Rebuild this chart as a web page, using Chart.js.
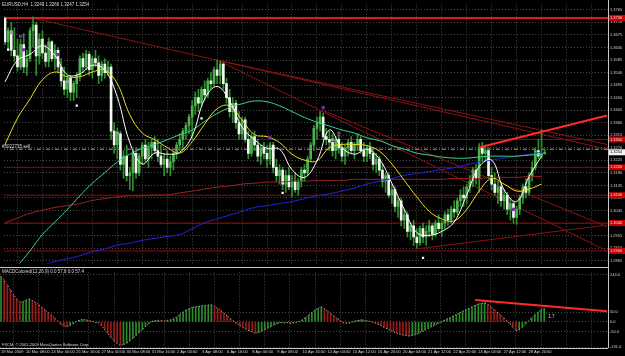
<!DOCTYPE html>
<html>
<head>
<meta charset="utf-8">
<title>EURUSD,H4</title>
<script src="https://cdn.jsdelivr.net/npm/chart.js@4.4.1/dist/chart.umd.min.js"></script>
<style>
  html, body { margin: 0; padding: 0; background: #000; }
  #wrap { position: relative; width: 625px; height: 356px; overflow: hidden; background: #000; }
  #mainChart { position: absolute; left: 0; top: 0; }
  #macdChart { position: absolute; left: 0; top: 268px; }
</style>
</head>
<body>
<div id="wrap">
  <canvas id="mainChart" width="625" height="268"></canvas>
  <canvas id="macdChart" width="625" height="88"></canvas>
</div>
<script>
// EURUSD H4, prices kept in pips (1/10000), one entry per 4h bar
const opens = [
  13735,13650,13690,13620,13600,13560,13640,13560,13590,13690,
  13710,13600,13660,13610,13580,13650,13590,13620,13560,13510,
  13480,13520,13470,13500,13530,13590,13560,13605,13550,13590,
  13575,13530,13570,13540,13560,13330,13280,13320,13210,13240,
  13170,13180,13250,13180,13240,13280,13230,13270,13290,13260,
  13240,13210,13230,13200,13220,13250,13280,13300,13330,13350,
  13380,13420,13450,13430,13480,13460,13510,13500,13550,13530,
  13570,13500,13450,13400,13430,13360,13320,13370,13300,13250,
  13310,13280,13240,13270,13250,13230,13280,13200,13170,13190,
  13140,13170,13130,13150,13120,13150,13190,13180,13230,13280,
  13340,13360,13380,13310,13300,13290,13260,13300,13270,13240,
  13270,13290,13260,13280,13300,13260,13240,13270,13250,13210,
  13230,13190,13150,13170,13100,13120,13060,13080,13010,13030,
  12970,12990,12950,12930,12980,12950,12970,12990,12960,13000,
  12980,13000,13030,13010,13050,13040,13080,13100,13090,13130,
  13150,13190,13160,13270,13250,13260,13170,13140,13110,13130,
  13080,13100,13050,13070,13020,13050,13090,13130,13110,13170,
  13200,13260,13240,13249
];
const highs = [
  13740,13700,13720,13700,13660,13660,13680,13620,13700,13740,
  13720,13680,13690,13640,13665,13655,13640,13630,13590,13560,
  13530,13530,13510,13540,13600,13610,13620,13615,13600,13620,
  13600,13580,13590,13580,13570,13360,13340,13330,13260,13280,
  13200,13260,13270,13250,13290,13300,13290,13300,13310,13300,
  13280,13250,13260,13240,13260,13290,13320,13340,13360,13390,
  13440,13470,13480,13490,13510,13520,13540,13560,13585,13580,
  13575,13520,13480,13450,13440,13400,13380,13380,13330,13320,
  13330,13300,13280,13290,13280,13290,13290,13230,13210,13200,
  13190,13200,13170,13180,13160,13200,13210,13240,13290,13350,
  13380,13400,13395,13340,13330,13320,13310,13320,13290,13280,
  13300,13310,13290,13320,13310,13290,13280,13290,13270,13250,
  13240,13210,13180,13180,13140,13130,13090,13090,13050,13040,
  13000,13010,12980,12990,13000,12990,13010,13000,13010,13030,
  13010,13040,13050,13060,13080,13090,13120,13130,13140,13170,
  13200,13210,13285,13290,13280,13270,13200,13180,13150,13140,
  13120,13110,13090,13080,13060,13100,13140,13160,13180,13220,
  13270,13300,13335,13266
];
const lows = [
  13640,13620,13600,13580,13545,13550,13540,13530,13580,13630,
  13530,13570,13590,13560,13560,13580,13550,13540,13490,13460,
  13450,13440,13440,13450,13510,13540,13550,13530,13520,13560,
  13500,13510,13520,13530,13300,13250,13230,13190,13160,13150,
  13120,13115,13160,13170,13210,13220,13200,13230,13250,13220,
  13200,13170,13180,13170,13190,13230,13260,13270,13300,13320,
  13300,13390,13400,13420,13440,13450,13480,13490,13500,13500,
  13480,13430,13380,13360,13340,13300,13300,13290,13230,13240,
  13260,13220,13210,13230,13200,13210,13180,13150,13140,13120,
  13110,13120,13095,13110,13100,13130,13150,13170,13220,13260,
  13300,13330,13300,13280,13260,13240,13230,13250,13220,13210,
  13240,13250,13230,13260,13250,13220,13220,13230,13190,13180,
  13170,13130,13110,13090,13070,13040,13020,12990,12980,12950,
  12940,12920,12910,12920,12930,12920,12950,12940,12950,12970,
  12950,12980,12990,13000,13020,13030,13060,13060,13070,13110,
  13130,13140,13110,13220,13220,13160,13120,13100,13070,13060,
  13050,13030,13010,13000,12995,13030,13070,13090,13100,13150,
  13190,13230,13230,13247
];
const closes = [
  13650,13690,13620,13600,13560,13640,13560,13590,13690,13710,
  13600,13660,13610,13580,13650,13590,13620,13560,13510,13480,
  13520,13470,13500,13530,13590,13560,13605,13550,13590,13575,
  13530,13570,13540,13560,13330,13280,13320,13210,13240,13170,
  13180,13250,13180,13240,13280,13230,13270,13290,13260,13240,
  13210,13230,13200,13220,13250,13280,13300,13330,13350,13380,
  13420,13450,13430,13480,13460,13510,13500,13550,13530,13570,
  13500,13450,13400,13430,13360,13320,13370,13300,13250,13310,
  13280,13240,13270,13250,13230,13280,13200,13170,13190,13140,
  13170,13130,13150,13120,13150,13190,13180,13230,13280,13340,
  13360,13380,13310,13300,13290,13260,13300,13270,13240,13270,
  13290,13260,13280,13300,13260,13240,13270,13250,13210,13230,
  13190,13150,13170,13100,13120,13060,13080,13010,13030,12970,
  12990,12950,12930,12980,12950,12970,12990,12960,13000,12980,
  13000,13030,13010,13050,13040,13080,13100,13090,13130,13150,
  13190,13160,13270,13250,13260,13170,13140,13110,13130,13080,
  13100,13050,13070,13020,13050,13090,13130,13110,13170,13200,
  13260,13240,13249,13254
];

// moving averages read every 4th bar
const maBars = [0,4,8,12,16,20,24,28,32,36,40,44,48,52,56,60,64,68,72,76,80,84,88,92,96,100,104,108,112,116,120,124,128,132,136,140,144,148,152,156,160,164,168,172];
const maWhite = [13507,13584,13605,13636,13601,13532,13535,13566,13549,13452,13289,13212,13251,13247,13254,13313,13445,13490,13438,13344,13299,13268,13265,13192,13164,13223,13334,13271,13247,13265,13230,13143,13049,12966,12956,12970,13004,13101,13202,13226,13119,13077,13167,13240];
const maYellow = [13282,13376,13445,13514,13542,13525,13525,13542,13549,13500,13389,13323,13299,13271,13251,13292,13355,13410,13421,13369,13317,13310,13289,13247,13226,13223,13271,13282,13282,13278,13258,13212,13153,13094,13042,13015,13008,13049,13115,13160,13140,13115,13122,13140];
const maGreen = [12779,12845,12900,12959,13004,13049,13098,13143,13181,13219,13247,13268,13282,13299,13317,13334,13365,13393,13414,13428,13438,13435,13421,13400,13379,13362,13348,13334,13323,13306,13296,13278,13265,13251,13244,13237,13233,13233,13237,13240,13240,13240,13244,13247];
const maBlue = [12796,12817,12831,12848,12862,12872,12883,12897,12907,12921,12928,12938,12945,12952,12959,12980,13001,13015,13029,13042,13056,13063,13070,13077,13088,13098,13105,13115,13126,13140,13150,13160,13171,13178,13185,13192,13199,13209,13219,13226,13233,13240,13247,13254];
const maBrown = [13001,13018,13035,13046,13056,13063,13070,13081,13088,13094,13098,13098,13101,13101,13108,13115,13122,13129,13133,13140,13143,13147,13147,13150,13150,13153,13153,13153,13157,13157,13157,13157,13157,13157,13157,13157,13160,13160,13160,13164,13164,13164,13167,13167];

// horizontal levels and drawn objects
const topLevel = 13736;
const levelPrices = [13736, 13300, 13200, 13100, 13000, 12900];
const orderLevel = 13265;
const orderLabel = '#5022735 sell';
// [bar1, price1, bar2, price2]
const trendLines = [
  [8.6, 13736, 193, 13265],
  [68.2, 13584, 193, 13282],
  [68.2, 13584, 193, 12900],
  [102.2, 13403, 193, 12987],
  [131.8, 12907, 193, 12993]
];
const channelLine = [151.9, 13271, 193, 13386];

// indicator marks
const squareBars = [1, 23, 63, 89, 134];
const squarePrices = [13622, 13421, 13376, 13108, 12875];
const purpleBars = [5, 6, 17, 85, 102, 107, 163];
const purplePrices = [13670, 13622, 13605, 13306, 13414, 13323, 13049];
const greyBars = [2, 20, 36, 105];
const greyPrices = [13684, 13507, 13323, 13299];

// MACD histogram, one value per bar
const macdHist = [
  234,215,190,165,140,118,100,
  105,112,118,
  110,100,88,75,62,48,35,20,5,-12,
  -20,-25,-18,-10,
  2,8,12,
  10,6,3,-2,-5,
  -20,-40,-60,-80,-98,-112,-122,-118,-110,
  -98,-85,-70,-55,-40,-25,-10,
  2,5,8,6,5,8,10,15,
  25,38,50,60,68,
  75,78,80,82,84,86,88,
  80,70,58,45,32,18,5,
  -8,-18,-28,-38,-46,-52,-58,-55,
  -48,-40,-32,-24,-15,-8,
  -4,-6,-3,-8,-5,-2,
  3,10,22,35,48,60,70,
  78,
  68,55,42,30,18,8,-5,
  -8,-5,0,5,8,10,7,4,0,-5,-12,
  -20,-28,-36,-44,-52,-58,-64,-68,-71,-73,-70,-65,
  -58,-50,-42,-34,-26,-18,-10,-2,
  6,14,22,30,38,46,54,62,70,78,85,91,95,98,
  90,78,64,50,36,22,8,-10,-28,-45,
  -40,
  -28,-12,4,20,36,50,62,70
];
const macdTrend = [151, 112, 193, 54];
const macdTicks = [-131.4, -50, 0, 50, 244];

// axis labels
const priceTicks = [12865,12910,12955,13000,13045,13090,13135,13180,13225,13270,13315,13360,13405,13450,13495,13540,13585,13630,13675,13720,13765];
const timeLabels = ['19 Mar 2009','20 Mar 08:00','24 Mar 00:00','25 Mar 16:00','27 Mar 00:00','30 Mar 08:00','31 Mar 16:00','2 Apr 00:00','3 Apr 08:00','6 Apr 16:00','8 Apr 00:00','9 Apr 08:00','10 Apr 16:00','14 Apr 04:00','15 Apr 12:00','16 Apr 20:00','20 Apr 04:00','21 Apr 12:00','22 Apr 20:00','24 Apr 04:00','27 Apr 12:00','28 Apr 20:00'];
const barsPerLabel = 8;

const headerText = 'EURUSD,H4  1.3249 1.3266 1.3247 1.3254';
const macdHeader = 'MACDColored(12,26,9) 0.0 57.8 0.0 57.4';
const copyright = 'FXCM, \u00a9 2001-2009 MetaQuotes Software Corp.';

const FONT = '"Liberation Sans", Arial, sans-serif';
const X_MIN = -0.32, X_MAX = 193.3;
const GRID = '#484848';

const pp = v => v / 10000;
const gridTicks = Array.from({ length: 25 }, (_, k) => ({ value: k * barsPerLabel }));

function txt(ctx, s, x, y, color, size, align) {
  ctx.fillStyle = color;
  ctx.font = size + 'px ' + FONT;
  ctx.textAlign = align || 'left';
  ctx.textBaseline = 'middle';
  ctx.fillText(s, x, y);
}

function segment(b1, p1, b2, p2, color, width, order, dash) {
  return {
    type: 'line',
    data: [{ x: b1, y: pp(p1) }, { x: b2, y: pp(p2) }],
    borderColor: color,
    borderWidth: width,
    borderDash: dash || [],
    pointRadius: 0,
    order: order
  };
}

function maLine(vals, color) {
  return {
    type: 'line',
    data: maBars.map((b, k) => ({ x: b, y: pp(vals[k]) })),
    borderColor: color,
    borderWidth: 1,
    pointRadius: 0,
    tension: 0.4,
    order: 1
  };
}

function marks(bars, prices, color, style, r) {
  return {
    type: 'line',
    data: bars.map((b, k) => ({ x: b, y: pp(prices[k]) })),
    showLine: false,
    pointStyle: style,
    pointRadius: r,
    pointBackgroundColor: color,
    pointBorderColor: color,
    pointBorderWidth: 0,
    order: 0
  };
}

const mainDecor = {
  id: 'mainDecor',
  afterDraw(chart) {
    const { ctx, chartArea: a } = chart;
    const y = chart.scales.y;
    ctx.save();
    ctx.strokeStyle = '#c8c8c8';
    ctx.lineWidth = 1;
    ctx.beginPath();
    ctx.moveTo(a.right + 0.5, 0);
    ctx.lineTo(a.right + 0.5, chart.height);
    ctx.moveTo(0, chart.height - 0.5);
    ctx.lineTo(a.right, chart.height - 0.5);
    ctx.stroke();

    txt(ctx, headerText, 2, 5, '#d8d8d8', 4.5);
    txt(ctx, orderLabel, 2, y.getPixelForValue(pp(orderLevel)) - 2, '#d8d8d8', 4.5);

    levelPrices.forEach(p => {
      const py = y.getPixelForValue(pp(p));
      ctx.fillStyle = '#c80000';
      ctx.fillRect(a.right + 1, py - 3, 16, 6);
      txt(ctx, pp(p).toFixed(4), a.right + 2, py, '#ffd8d8', 4);
    });
    const last = closes[closes.length - 1];
    const by = y.getPixelForValue(pp(last));
    ctx.fillStyle = '#f4f4f4';
    ctx.fillRect(a.right + 1, by - 3, 16, 6);
    txt(ctx, pp(last).toFixed(4), a.right + 2, by, '#000', 4);
    ctx.restore();
  }
};

const macdDecor = {
  id: 'macdDecor',
  afterDraw(chart) {
    const { ctx, chartArea: a } = chart;
    const x = chart.scales.x, y = chart.scales.y;
    ctx.save();
    ctx.strokeStyle = '#c8c8c8';
    ctx.lineWidth = 1;
    ctx.beginPath();
    ctx.moveTo(a.right + 0.5, 0);
    ctx.lineTo(a.right + 0.5, a.bottom);
    ctx.moveTo(0, a.bottom + 0.5);
    ctx.lineTo(a.right, a.bottom + 0.5);
    ctx.stroke();

    txt(ctx, macdHeader, 2, 4, '#d8d8d8', 4.5);
    txt(ctx, copyright, 2, a.bottom - 3, '#d8d8d8', 4);
    txt(ctx, '1.7', x.getPixelForValue(174.3), y.getPixelForValue(24), '#d8d8d8', 4.5);
    timeLabels.forEach((s, k) => {
      txt(ctx, s, x.getPixelForValue(k * barsPerLabel), a.bottom + 4, '#d8d8d8', 4);
    });
    ctx.restore();
  }
};

const xAxis = {
  type: 'linear',
  min: X_MIN,
  max: X_MAX,
  offset: false,
  afterBuildTicks: s => { s.ticks = gridTicks.slice(); },
  afterFit: s => { s.height = 0; },
  ticks: { display: false },
  grid: { color: GRID, lineWidth: 1, drawTicks: false },
  border: { display: false, dash: [1, 2] }
};

const wickData = lows.map((l, i) => ({ x: i, y: [pp(l), pp(highs[i])] }));
const bodyData = opens.map((o, i) => ({ x: i, y: [pp(Math.min(o, closes[i])), pp(Math.max(o, closes[i]))] }));
const bodyColors = opens.map((o, i) => closes[i] < o ? '#eefaee' : '#4fb04f');

new Chart(document.getElementById('mainChart'), {
  type: 'bar',
  data: {
    datasets: [
      marks(squareBars, squarePrices, '#ffffff', 'rect', 1.6),
      marks(purpleBars, purplePrices, '#7a2ab0', 'circle', 1.8),
      marks(greyBars, greyPrices, '#9a9a9a', 'circle', 1.8),
      maLine(maWhite, '#ffffff'),
      maLine(maYellow, '#e8e020'),
      maLine(maGreen, '#3ad68a'),
      maLine(maBlue, '#2424e0'),
      maLine(maBrown, '#9a2424'),
      {
        type: 'bar', data: bodyData, backgroundColor: bodyColors,
        barThickness: 2, grouped: false, minBarLength: 1, order: 2
      },
      {
        type: 'bar', data: wickData, backgroundColor: '#2f8f2f',
        barThickness: 1, grouped: false, minBarLength: 1, order: 3
      },
      segment(channelLine[0], channelLine[1], channelLine[2], channelLine[3], '#ff2a2a', 2, 1),
      segment(X_MIN - 1, topLevel, X_MAX + 1, topLevel, '#e01818', 2, 4),
      ...levelPrices.slice(1).map(p => segment(X_MIN - 1, p, X_MAX + 1, p, '#8a0d0d', 1, 4)),
      segment(X_MIN - 1, orderLevel, X_MAX + 1, orderLevel, '#a8a8a8', 1, 4, [4, 2, 1, 2]),
      ...trendLines.map(t => segment(t[0], t[1], t[2], t[3], '#8a1212', 1, 4))
    ]
  },
  options: {
    responsive: false,
    devicePixelRatio: 1,
    animation: false,
    layout: { padding: 0 },
    plugins: { legend: { display: false }, tooltip: { enabled: false } },
    scales: {
      x: xAxis,
      y: {
        type: 'linear',
        position: 'right',
        min: 1.28546,
        max: 1.37845,
        afterBuildTicks: s => { s.ticks = priceTicks.map(v => ({ value: pp(v) })); },
        afterFit: s => { s.width = 17; },
        ticks: {
          autoSkip: false,
          padding: 2,
          color: '#d0d0d0',
          font: { family: FONT, size: 4 },
          callback: v => Number(v).toFixed(4)
        },
        grid: { color: GRID, lineWidth: 1, drawTicks: false },
        border: { display: false, dash: [1, 2] }
      }
    }
  },
  plugins: [mainDecor]
});

const histColors = macdHist.map((v, i) => (i > 0 && v < macdHist[i - 1]) ? '#9c1c1c' : '#2c8c2c');

new Chart(document.getElementById('macdChart'), {
  type: 'bar',
  data: {
    datasets: [
      segment(macdTrend[0], macdTrend[1] * 10000, macdTrend[2], macdTrend[3] * 10000, '#ff2a2a', 2, 0),
      {
        type: 'line',
        data: macdHist.map((v, i) => ({ x: i, y: v })),
        borderColor: '#bdbdbd',
        borderWidth: 1,
        borderDash: [1, 2],
        pointRadius: 0,
        order: 1
      },
      {
        type: 'bar',
        data: macdHist.map((v, i) => ({ x: i, y: v })),
        backgroundColor: histColors,
        barThickness: 1,
        grouped: false,
        order: 2
      }
    ]
  },
  options: {
    responsive: false,
    devicePixelRatio: 1,
    animation: false,
    layout: { padding: 0 },
    plugins: { legend: { display: false }, tooltip: { enabled: false } },
    scales: {
      x: Object.assign({}, xAxis, { afterFit: s => { s.height = 8; } }),
      y: {
        type: 'linear',
        position: 'right',
        min: -135,
        max: 255,
        afterBuildTicks: s => { s.ticks = macdTicks.map(v => ({ value: v })); },
        afterFit: s => { s.width = 17; },
        ticks: {
          autoSkip: false,
          padding: 2,
          color: '#d0d0d0',
          font: { family: FONT, size: 4 },
          callback: v => Number(v).toFixed(1)
        },
        grid: { color: GRID, lineWidth: 1, drawTicks: false },
        border: { display: false, dash: [1, 2] }
      }
    }
  },
  plugins: [macdDecor]
});
</script>
</body>
</html>
